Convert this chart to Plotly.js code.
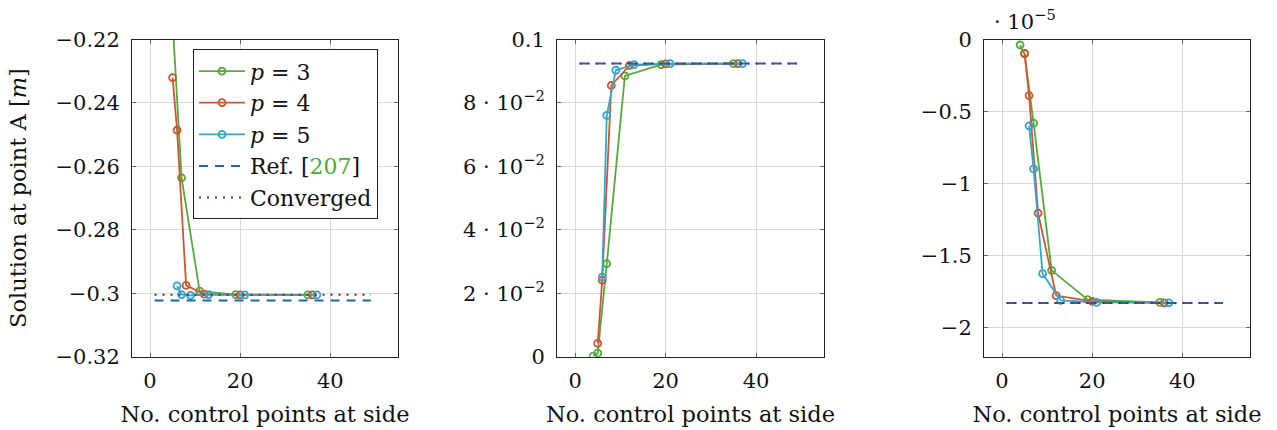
<!DOCTYPE html>
<html>
<head>
<meta charset="utf-8">
<script src="https://cdn.plot.ly/plotly-3.0.1.min.js"></script>
<style>html,body{margin:0;padding:0;background:#fff;}#chart{width:1277px;height:430px;}</style>
</head>
<body>
<div id="chart"></div>
<script>
// Number of control points at side, per degree p
const xP3 = [4, 5, 7, 11, 19, 35];
const xP4 = [5, 6, 8, 12, 20, 36];
const xP5 = [6, 7, 9, 13, 21, 37];
const xRef = [1, 49];

// Left panel: displacement at point A [m]
const leftP3 = [-0.17, -0.214, -0.2636, -0.2993, -0.3004, -0.3005];
const leftP4 = [-0.232, -0.2486, -0.2975, -0.3003, -0.3005, -0.3005];
const leftP5 = [-0.2977, -0.3004, -0.3007, -0.3004, -0.3005, -0.3005];
const leftRef = -0.3023;
const leftConv = -0.3005;

// Middle panel
const midP3 = [0.0002, 0.0011, 0.0293, 0.0885, 0.0921, 0.0924];
const midP4 = [0.0042, 0.0241, 0.0855, 0.0918, 0.0923, 0.0924];
const midP5 = [0.0251, 0.0761, 0.0903, 0.0921, 0.0924, 0.0924];
const midRef = 0.0924;
const midConv = 0.0924;

// Right panel (values in units of 1e-5)
const rightP3 = [-0.038, -0.10, -0.580, -1.601, -1.804, -1.823];
const rightP4 = [-0.096, -0.389, -1.204, -1.776, -1.816, -1.826];
const rightP5 = [-0.599, -0.897, -1.624, -1.809, -1.823, -1.826];
const rightRef = -1.827;
const rightConv = -1.827;

// Tick labels
const leftTickVals = [-0.32, -0.30, -0.28, -0.26, -0.24, -0.22];
const leftTickText = ['−0.32', '−0.3', '−0.28', '−0.26', '−0.24', '−0.22'];
const midTickVals = [0, 0.02, 0.04, 0.06, 0.08, 0.1];
const midTickText = ['0', '2 · 10<sup>−2</sup>', '4 · 10<sup>−2</sup>', '6 · 10<sup>−2</sup>', '8 · 10<sup>−2</sup>', '0.1'];
const rightTickVals = [-2, -1.5, -1, -0.5, 0];
const rightTickText = ['−2', '−1.5', '−1', '−0.5', '0'];
const xTickVals = [0, 20, 40];

const seriesNames = ['<i>p</i> = 3', '<i>p</i> = 4', '<i>p</i> = 5'];
const refName = 'Ref. [<span style="color:#4fa83a">207</span>]';
const convName = 'Converged';

const cGreen = '#55aa3c', cRed = '#cf5531', cBlue = '#33a6cc', cRef = '#2167b0', cConv = '#8c1c4e';
const FONT = 'DejaVu Serif, serif';

const panels = [
  {p3: leftP3, p4: leftP4, p5: leftP5, ref: leftRef, conv: leftConv},
  {p3: midP3, p4: midP4, p5: midP5, ref: midRef, conv: midConv},
  {p3: rightP3, p4: rightP4, p5: rightP5, ref: rightRef, conv: rightConv}
];

const traces = [];
panels.forEach((pn, i) => {
  const xa = i === 0 ? 'x' : 'x' + (i + 1);
  const ya = i === 0 ? 'y' : 'y' + (i + 1);
  const show = i === 0;
  [[xP3, pn.p3, cGreen, seriesNames[0]], [xP4, pn.p4, cRed, seriesNames[1]], [xP5, pn.p5, cBlue, seriesNames[2]]].forEach(s => {
    traces.push({
      x: s[0], y: s[1], xaxis: xa, yaxis: ya, type: 'scatter', mode: 'lines+markers',
      name: s[3], showlegend: show, legendgroup: s[3],
      line: {color: s[2], width: 1.8},
      marker: {symbol: 'circle-open', size: 7, color: s[2], line: {width: 1.8, color: s[2]}}
    });
  });
  traces.push({
    x: xRef, y: [pn.ref, pn.ref], xaxis: xa, yaxis: ya, type: 'scatter', mode: 'lines',
    name: refName, showlegend: show, legendgroup: 'ref',
    line: {color: cRef, width: 2, dash: '9px,7px'}
  });
  traces.push({
    x: xRef, y: [pn.conv, pn.conv], xaxis: xa, yaxis: ya, type: 'scatter', mode: 'lines',
    name: convName, showlegend: show, legendgroup: 'conv',
    line: {color: cConv, width: 2, dash: '2px,6px'}
  });
});

const W = 1277, H = 430;
const yDom = [(H - 356.7) / H, (H - 39.5) / H];
const xDoms = [[132 / W, 398 / W], [557 / W, 824 / W], [984 / W, 1250 / W]];

function xAxis(i) {
  return {
    domain: xDoms[i], range: [-4, 55], anchor: i === 0 ? 'y' : 'y' + (i + 1),
    tickvals: xTickVals, ticktext: xTickVals.map(String),
    ticks: 'inside', ticklen: 4, tickcolor: '#666', mirror: 'allticks',
    showline: true, linecolor: '#222', linewidth: 1,
    showgrid: true, gridcolor: '#d9d9d9', gridwidth: 1, zeroline: false,
    ticklabelstandoff: 5,
    tickfont: {family: FONT, size: 21, color: '#111'},
    title: {text: 'No. control points at side', font: {family: FONT, size: 22.5, color: '#111'}, standoff: 14}
  };
}
function yAxis(i, range, tv, tt) {
  return {
    domain: yDom, range: range, anchor: i === 0 ? 'x' : 'x' + (i + 1),
    tickvals: tv, ticktext: tt,
    ticks: 'inside', ticklen: 4, tickcolor: '#666', mirror: 'allticks',
    showline: true, linecolor: '#222', linewidth: 1,
    showgrid: true, gridcolor: '#d9d9d9', gridwidth: 1, zeroline: false,
    ticklabelstandoff: 7,
    tickfont: {family: FONT, size: 21, color: '#111'}
  };
}

const layout = {
  width: W, height: H,
  margin: {l: 0, r: 0, t: 0, b: 0},
  paper_bgcolor: '#fff', plot_bgcolor: '#fff',
  font: {family: FONT, color: '#111'},
  showlegend: true,
  legend: {
    x: 193 / W, y: (H - 49.3) / H, xanchor: 'left', yanchor: 'top',
    bgcolor: '#fff', bordercolor: '#222', borderwidth: 1,
    font: {family: FONT, size: 22, color: '#111'},
    itemwidth: 46, tracegroupgap: 0
  },
  xaxis: xAxis(0), xaxis2: xAxis(1), xaxis3: xAxis(2),
  yaxis: Object.assign(yAxis(0, [-0.32, -0.22], leftTickVals, leftTickText),
    {title: {text: 'Solution at point A [<i>m</i>]', font: {family: FONT, size: 22.5, color: '#111'}, standoff: 22}}),
  yaxis2: yAxis(1, [0, 0.1], midTickVals, midTickText),
  yaxis3: yAxis(2, [-2.2, 0], rightTickVals, rightTickText),
  annotations: [{
    text: '· 10<sup>−5</sup>', xref: 'paper', yref: 'paper',
    x: 992 / W, y: (H - 20) / H, xanchor: 'left', yanchor: 'middle',
    showarrow: false, font: {family: FONT, size: 21, color: '#111'}
  }]
};

Plotly.newPlot('chart', traces, layout, {displayModeBar: false, staticPlot: true});
</script>
</body>
</html>
